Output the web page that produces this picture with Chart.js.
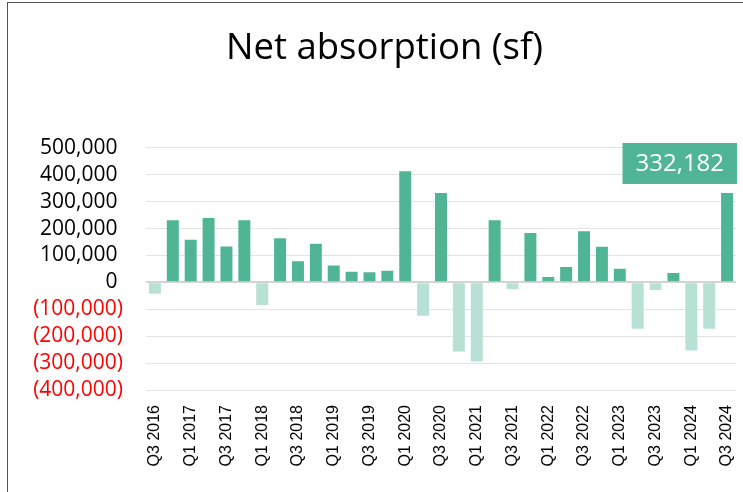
<!DOCTYPE html>
<html>
<head>
<meta charset="utf-8">
<script src="https://cdn.jsdelivr.net/npm/chart.js@4.4.1/dist/chart.umd.min.js"></script>
<style>
  html, body { margin: 0; padding: 0; background: #fff; overflow: hidden; }
  #wrap { position: relative; width: 743px; height: 492px; }
  #frame { position: absolute; left: 7px; top: 2px; width: 800px; height: 600px; border: 1.5px solid #555; pointer-events: none; }
</style>
</head>
<body>
<div id="wrap">
  <canvas id="absorptionChart"></canvas>
  <div id="frame"></div>
</div>
<script>
const quarters = [
    'Q3 2016', 'Q4 2016', 'Q1 2017', 'Q2 2017', 'Q3 2017', 'Q4 2017',
    'Q1 2018', 'Q2 2018', 'Q3 2018', 'Q4 2018', 'Q1 2019', 'Q2 2019',
    'Q3 2019', 'Q4 2019', 'Q1 2020', 'Q2 2020', 'Q3 2020', 'Q4 2020',
    'Q1 2021', 'Q2 2021', 'Q3 2021', 'Q4 2021', 'Q1 2022', 'Q2 2022',
    'Q3 2022', 'Q4 2022', 'Q1 2023', 'Q2 2023', 'Q3 2023', 'Q4 2023',
    'Q1 2024', 'Q2 2024', 'Q3 2024'
];
const netAbsorption = [
    -42000, 231000, 158000, 239000, 133000, 231000,
    -84000, 164000, 78000, 143000, 63000, 39000,
    38000, 43000, 413000, -124000, 332000, -257000,
    -294000, 231000, -25000, 183000, 20000, 57000,
    190000, 132000, 51000, -172000, -28000, 35000,
    -253000, -172000, 332182
];
const yTicks = [500000, 400000, 300000, 200000, 100000, 0, -100000, -200000, -300000, -400000];

const positiveColor = '#4fb595';
const negativeColor = '#b8e1d5';

const formatNumber = (v) => {
    const s = new Intl.NumberFormat('en-US').format(Math.abs(v));
    return v < 0 ? `(${s})` : s;
};

// excel style: positives keep a gap where the ")" would be
const formatTick = (v) => (v < 0 ? formatNumber(v) : formatNumber(v) + '\u2008');

// title sits a bit right of the canvas centre in the original
const titleNudge = {
    id: 'titleNudge',
    afterLayout(chart) {
        if (chart.titleBlock) chart.titleBlock.left = 33;
    }
};

// callout box above the latest quarter
const lastValueLabel = {
    id: 'lastValueLabel',
    afterDatasetsDraw(chart) {
        const meta = chart.getDatasetMeta(0);
        const bar = meta.data[meta.data.length - 1];
        const value = netAbsorption[netAbsorption.length - 1];
        const ctx = chart.ctx;
        const text = formatNumber(value);
        ctx.save();
        ctx.font = '24px "Open Sans"';
        const w = ctx.measureText(text).width + 26;
        const h = 41;
        const right = bar.x + bar.width / 2 + 4;
        const bottom = bar.y - 9;
        ctx.fillStyle = positiveColor;
        ctx.fillRect(right - w, bottom - h, w, h);
        ctx.fillStyle = '#fff';
        ctx.textAlign = 'center';
        ctx.textBaseline = 'middle';
        ctx.fillText(text, right - w / 2, bottom - h / 2 + 1);
        ctx.restore();
    }
};

const ctx = document.getElementById('absorptionChart').getContext('2d');
const absorptionChart = new Chart(ctx, {
    type: 'bar',
    data: {
        labels: quarters,
        datasets: [{
            label: 'Net absorption (sf)',
            data: netAbsorption,
            backgroundColor: netAbsorption.map((v) => (v < 0 ? negativeColor : positiveColor)),
            barPercentage: 0.67,
            categoryPercentage: 1.0,
        }],
    },
    options: {
        responsive: true,
        maintainAspectRatio: false,
        animation: false,
        layout: { padding: { left: 0, right: 7, top: 0, bottom: 0 } },
        plugins: {
            legend: { display: false },
            tooltip: { enabled: false },
            title: {
                display: true,
                text: 'Net absorption (sf)',
                color: '#000',
                font: { family: '"Open Sans"', size: 36.5, weight: 'normal' },
                padding: { top: 27, bottom: 77 },
            },
        },
        scales: {
            x: {
                grid: { display: false, drawTicks: false },
                border: { display: false },
                ticks: {
                    autoSkip: false,
                    maxRotation: 90,
                    minRotation: 90,
                    padding: 15,
                    color: '#000',
                    font: { family: '"Liberation Sans"', size: 16 },
                    callback: (value, index) => (index % 2 === 0 ? quarters[index] : ''),
                },
                afterFit: (scale) => {
                    scale.height = 102;
                    scale.paddingLeft = 0;
                    scale.paddingRight = 0;
                },
            },
            y: {
                min: -400000,
                max: 500000,
                afterBuildTicks: (scale) => { scale.ticks = yTicks.map((v) => ({ value: v })); },
                grid: {
                    drawTicks: false,
                    color: (c) => (c.tick && c.tick.value === 0 ? '#d4d4d4' : '#e3e3e3'),
                    lineWidth: (c) => (c.tick && c.tick.value === 0 ? 2 : 1),
                },
                border: { display: false },
                ticks: {
                    autoSkip: false,
                    padding: 23,
                    color: (c) => (c.tick && c.tick.value < 0 ? '#ff0000' : '#000'),
                    font: { family: '"Open Sans"', size: 21 },
                    callback: (value) => formatTick(value),
                },
                afterFit: (scale) => { scale.width = 146; },
            },
        },
    },
    plugins: [titleNudge, lastValueLabel],
});
</script>
</body>
</html>
